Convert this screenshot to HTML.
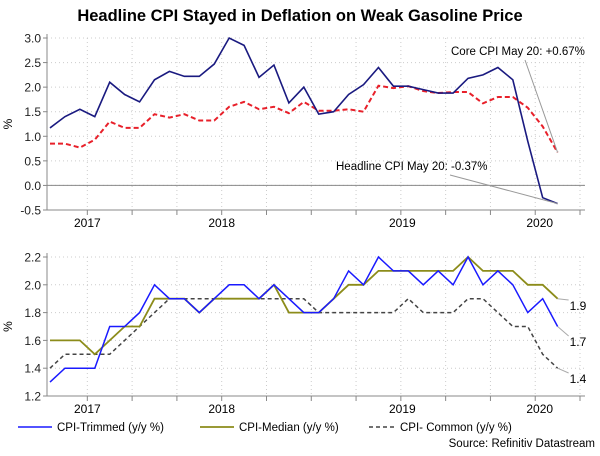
<!DOCTYPE html>
<html><head><meta charset="utf-8"><style>
body{margin:0;background:#fff;font-family:"Liberation Sans",sans-serif}
svg text{font-family:"Liberation Sans",sans-serif}
</style></head><body>
<svg width="600" height="451" viewBox="0 0 600 451">
<text x="300" y="21" text-anchor="middle" font-size="16.5" font-weight="bold" fill="#000">Headline CPI Stayed in Deflation on Weak Gasoline Price</text>
<g id="top"></g>
<g id="bot"></g>
<g>
<line x1="18" y1="427" x2="52" y2="427" stroke="#1a1aff" stroke-width="1.5"/>
<text x="57" y="431" font-size="11.5">CPI-Trimmed (y/y %)</text>
<line x1="200" y1="427" x2="234" y2="427" stroke="#8c8c1a" stroke-width="1.8"/>
<text x="239" y="431" font-size="11.5">CPI-Median (y/y %)</text>
<line x1="369" y1="427" x2="396" y2="427" stroke="#444" stroke-width="1.5" stroke-dasharray="4,3"/>
<text x="400" y="431" font-size="11.5">CPI- Common (y/y %)</text>
</g>
<text x="595" y="447" text-anchor="end" font-size="11.5">Source: Refinitiv Datastream</text>
</svg>
<script>
const headline=[1.17,1.4,1.55,1.4,2.1,1.85,1.7,2.15,2.32,2.22,2.22,2.47,3.0,2.85,2.2,2.45,1.68,2.0,1.45,1.5,1.85,2.05,2.4,2.02,2.02,1.95,1.88,1.88,2.18,2.25,2.4,2.15,0.9,-0.25,-0.37];
const core=[0.85,0.85,0.77,0.93,1.3,1.17,1.17,1.45,1.38,1.45,1.32,1.32,1.6,1.7,1.55,1.6,1.47,1.7,1.52,1.52,1.55,1.5,2.03,1.98,2.02,1.92,1.88,1.9,1.9,1.67,1.8,1.8,1.58,1.2,0.67];
const trimmed=[1.3,1.4,1.4,1.4,1.7,1.7,1.8,2.0,1.9,1.9,1.8,1.9,2.0,2.0,1.9,2.0,1.9,1.8,1.8,1.9,2.1,2.0,2.2,2.1,2.1,2.0,2.1,2.0,2.2,2.0,2.1,2.0,1.8,1.9,1.7];
const median=[1.6,1.6,1.6,1.5,1.6,1.7,1.7,1.9,1.9,1.9,1.8,1.9,1.9,1.9,1.9,2.0,1.8,1.8,1.8,1.9,2.0,2.0,2.1,2.1,2.1,2.1,2.1,2.1,2.2,2.1,2.1,2.1,2.0,2.0,1.9];
const common=[1.4,1.5,1.5,1.5,1.5,1.6,1.7,1.8,1.9,1.9,1.9,1.9,1.9,1.9,1.9,1.9,1.9,1.9,1.8,1.8,1.8,1.8,1.8,1.8,1.9,1.8,1.8,1.8,1.9,1.9,1.8,1.7,1.7,1.5,1.4];
const yearLabels=["2017","2018","2019","2020"];
const yearPos=[2.5,11.5,23.6,32.8];
const topTicks=[3.0,2.5,2.0,1.5,1.0,0.5,0.0,-0.5];
const botTicks=[2.2,2.0,1.8,1.6,1.4,1.2];
const NS="http://www.w3.org/2000/svg";
const x0=50,dx=14.93,L=47,R=585;
const X=i=>x0+i*dx;
function mk(p,t,a){const e=document.createElementNS(NS,t);for(const k in a)e.setAttribute(k,a[k]);p.appendChild(e);return e;}
function panel(g,ticks,ymin,ymax,top,bot){
  const Y=v=>bot-(v-ymin)/(ymax-ymin)*(bot-top);
  ticks.forEach(v=>{
    const gl=mk(g,'line',{x1:L,x2:R,y1:Y(v),y2:Y(v),stroke:'#ccc','stroke-dasharray':'1,3'});
    
    
    const tk=mk(g,'line',{x1:L-4,x2:L,y1:Y(v),y2:Y(v),stroke:'#888'});
    
    
    const t=mk(g,'text',{x:L-6,y:Y(v)+4.5,'text-anchor':'end','font-size':'12',fill:'#222'});
    t.textContent=v.toFixed(1);
    
    
  });
  for(let q=0;q<13;q++){const xx=X(2.5+q*3);if(xx<L||xx>R)continue;
    const vl=mk(g,'line',{x1:xx,x2:xx,y1:top,y2:bot,stroke:'#ccc','stroke-dasharray':'1,3'});
    
    
    const tk=mk(g,'line',{x1:xx,x2:xx,y1:bot,y2:bot+5,stroke:'#888'});
    
    }
  const ax=mk(g,'path',{d:`M${L},${top-4}V${bot}H${R}`,stroke:'#888',fill:'none'});
  
  
  yearLabels.forEach((s,i)=>{const t=mk(g,'text',{x:X(yearPos[i]),y:bot+17,'text-anchor':'middle','font-size':'12'});t.textContent=s;
    
    });
  const yl=mk(g,'text',{x:12,y:(top+bot)/2,'text-anchor':'middle','font-size':'12',transform:`rotate(-90 12 ${(top+bot)/2})`});yl.textContent='%';
  
  
  return Y;
}
function line(g,data,Y,st,name){const p=mk(g,'path',Object.assign({d:data.map((v,i)=>(i?'L':'M')+X(i)+','+Y(v)).join(''),fill:'none'},st));
  
  return p;}
const gt=document.getElementById('top'),gb=document.getElementById('bot');
const Yt=panel(gt,topTicks,-0.5,3.0,38,210);
const z=mk(gt,'line',{x1:L,x2:R,y1:Yt(0),y2:Yt(0),stroke:'#888'});


line(gt,core,Yt,{stroke:'#e8202a','stroke-width':2,'stroke-dasharray':'5,3'},'core-cpi-line');
line(gt,headline,Yt,{stroke:'#1a1a80','stroke-width':1.6},'headline-cpi-line');
const n=headline.length-1;
let a1=mk(gt,'line',{x1:525,y1:60,x2:X(n),y2:Yt(core[n]),stroke:'#999'});


let a2=mk(gt,'line',{x1:450,y1:175,x2:X(n),y2:Yt(headline[n]),stroke:'#999'});


let t1=mk(gt,'text',{x:451,y:55,'font-size':'11.5'});t1.textContent='Core CPI May 20: +0.67%';


let t2=mk(gt,'text',{x:336,y:170,'font-size':'11.5'});t2.textContent='Headline CPI May 20: -0.37%';


const Yb=panel(gb,botTicks,1.2,2.2,257,396);
line(gb,common,Yb,{stroke:'#444','stroke-width':1.5,'stroke-dasharray':'4,3'},'common-line');
line(gb,median,Yb,{stroke:'#8c8c1a','stroke-width':1.8},'median-line');
line(gb,trimmed,Yb,{stroke:'#1a1aff','stroke-width':1.5},'trimmed-line');
[[median,'1.9',310,'median-end-label'],[trimmed,'1.7',346,'trimmed-end-label'],[common,'1.4',383,'common-end-label']].forEach(([d,s,y,nm])=>{
  const l=mk(gb,'line',{x1:X(n),y1:Yb(d[n]),x2:X(n)+11,y2:y-10,stroke:'#aaa'});
  
  
  const t=mk(gb,'text',{x:X(n)+12,y:y,'font-size':'12'});t.textContent=s;
  
  
});
</script>
</body></html>
